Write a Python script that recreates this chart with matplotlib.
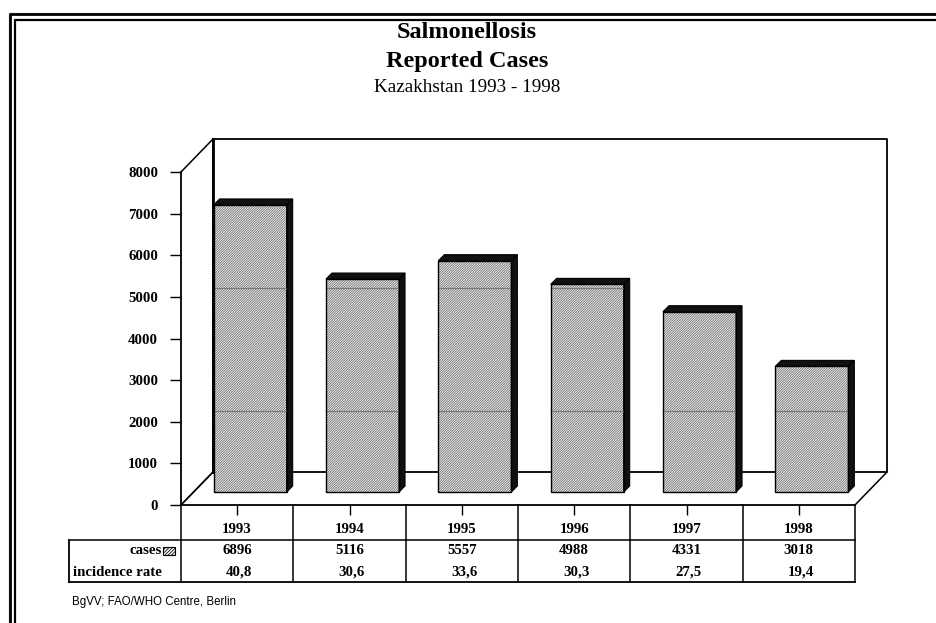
import matplotlib
matplotlib.use("Agg")
import matplotlib.pyplot as plt
from matplotlib.lines import Line2D
from matplotlib.patches import Polygon, Rectangle

# data
years = ["1993", "1994", "1995", "1996", "1997", "1998"]
cases = [6896, 5116, 5557, 4988, 4331, 3018]
rates = ["40,8", "30,6", "33,6", "30,3", "27,5", "19,4"]
y_ticks = [0, 1000, 2000, 3000, 4000, 5000, 6000, 7000, 8000]

W, H = 936, 623
serif = "Liberation Serif"

fig = plt.figure(figsize=(W / 100, H / 100), dpi=100)


def fx(x):
    return x / W


def fy(y):
    return 1 - y / H


# double frame around the slide
fig.add_artist(Line2D([fx(9), fx(9), 1], [0, fy(12.5), fy(12.5)], color="#b0b0b0", lw=1))
fig.add_artist(Line2D([fx(9.5), fx(9.5), 1], [0, fy(14.3), fy(14.3)], color="black", lw=2.0))
fig.add_artist(Line2D([fx(14.5), fx(14.5), 1], [0, fy(20), fy(20)], color="black", lw=1.6))

# titles
fig.text(fx(467), fy(33), "Salmonellosis", ha="center", va="center",
         family=serif, weight="bold", size=17.5)
fig.text(fx(467), fy(62), "Reported Cases", ha="center", va="center",
         family=serif, weight="bold", size=17.5)
fig.text(fx(467), fy(88), "Kazakhstan 1993 - 1998", ha="center", va="center",
         family=serif, size=13.8)
fig.text(fx(72), fy(602), "BgVV; FAO/WHO Centre, Berlin", ha="left", va="center",
         family="Liberation Sans", size=8.3)

# front plane of the chart
ax = fig.add_axes([fx(181), fy(505), (855 - 181) / W, 333 / H])
n = len(years)
ax.set_xlim(-0.5, n - 0.5)
ax.set_ylim(0, 8000)
ax.patch.set_visible(False)
for s in ["top", "right"]:
    ax.spines[s].set_visible(False)
for s in ["left", "bottom"]:
    ax.spines[s].set_linewidth(1.3)

ax.set_yticks(y_ticks)
ax.set_yticklabels([str(t) for t in y_ticks], family=serif, weight="bold", size=10.7)
ax.set_xticks(range(n))
ax.set_xticklabels(years, family=serif, weight="bold", size=10.7)
ax.tick_params(axis="y", direction="out", length=8, width=1, pad=8.5)
ax.tick_params(axis="x", direction="out", length=7, width=1, pad=6)

# pixel -> data helpers for the fake 3d depth
ppx = ax.bbox.width / n
ppy = ax.bbox.height / 8000


def shift(px, py):
    return px / ppx, py / ppy


# back wall
bx, by = shift(32, 33)
x_l, x_r, top = -0.5, n - 0.5, 8000
ax.plot([x_l + bx, x_l + bx, x_r + bx, x_r + bx, x_l + bx],
        [by, top + by, top + by, by, by], color="black", lw=1.3, clip_on=False, zorder=1)
ax.plot([x_l, x_l + bx], [top, top + by], color="black", lw=1.1, clip_on=False, zorder=1)
ax.plot([x_l, x_l + bx], [0, by], color="black", lw=1.3, clip_on=False, zorder=1)
ax.plot([x_r, x_r + bx], [0, by], color="black", lw=1.1, clip_on=False, zorder=1)
ax.plot([x_l + bx, x_l + bx], [by, top + by], color="black", lw=2.0, clip_on=False, zorder=1)

# bars
plt.rcParams["hatch.linewidth"] = 0.55
ox, oy = shift(13, 13)
dx, dy = shift(6, 6)
bw = 0.65
xs = [i + ox for i in range(n)]
ax.bar(xs, cases, bw, bottom=oy, facecolor="#f4f4f4", edgecolor="#666666",
       hatch="/" * 14, linewidth=0, clip_on=False, zorder=3)
ax.bar(xs, cases, bw, bottom=oy, fill=False, edgecolor="black", linewidth=1.0,
       clip_on=False, zorder=5)
for x, v in zip(xs, cases):
    x0, x1 = x - bw / 2, x + bw / 2
    y0, y1 = oy, oy + v
    ax.add_patch(Polygon([(x0, y1), (x1, y1), (x1 + dx, y1 + dy), (x0 + dx, y1 + dy)],
                         closed=True, facecolor="#111111", edgecolor="black", lw=0.8,
                         clip_on=False, zorder=4))
    ax.add_patch(Polygon([(x1, y0), (x1, y1), (x1 + dx, y1 + dy), (x1 + dx, y0 + dy)],
                         closed=True, facecolor="#111111", edgecolor="black", lw=0.8,
                         clip_on=False, zorder=4))
    # faint grid lines showing through the bars
    for g in [1950, 4900]:
        if oy + g < y1:
            ax.plot([x0, x1], [oy + g, oy + g], color="#7a7a7a", lw=0.9, zorder=4)

# data table below the axis
tr = ax.get_xaxis_transform()


def ty(y):
    return (505 - y) / 333


lab_x = -1.5
ax.plot([lab_x, x_r], [ty(540), ty(540)], color="black", lw=1.1, transform=tr, clip_on=False)
ax.plot([lab_x, x_r], [ty(582), ty(582)], color="black", lw=1.3, transform=tr, clip_on=False)
ax.plot([lab_x, lab_x], [ty(540), ty(582)], color="black", lw=1.3, transform=tr, clip_on=False)
for k in range(n + 1):
    ax.plot([k - 0.5, k - 0.5], [0, ty(582)], color="black", lw=1.1, transform=tr, clip_on=False)

for i in range(n):
    ax.text(i, ty(551), str(cases[i]), transform=tr, ha="center", va="center",
            family=serif, weight="bold", size=10.7)
    ax.text(i + 0.02, ty(572), rates[i], transform=tr, ha="center", va="center",
            family=serif, weight="bold", size=10.7)

ax.text(-0.67, ty(551), "cases", transform=tr, ha="right", va="center",
        family=serif, weight="bold", size=10.7)
sw_x0 = -0.5 - (181 - 163) / ppx
ax.add_patch(Rectangle((sw_x0, ty(555)), 12 / ppx, 8 / 333, transform=tr,
                       facecolor="#f4f4f4", edgecolor="black", hatch="/" * 10,
                       lw=0.8, clip_on=False))
ax.text(-1.465, ty(572), "incidence rate", transform=tr, ha="left", va="center",
        family=serif, weight="bold", size=10.7)

fig.savefig("out.png", dpi=100)
